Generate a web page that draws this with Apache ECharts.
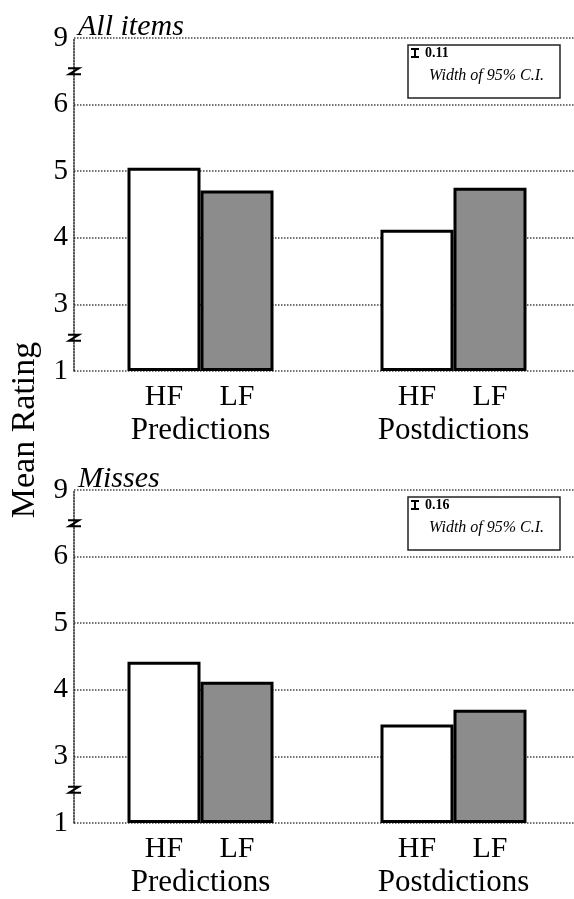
<!DOCTYPE html>
<html><head><meta charset="utf-8">
<script src="https://cdn.jsdelivr.net/npm/echarts@6/dist/echarts.min.js"></script>
<style>html,body{margin:0;padding:0;background:#fff}#c{width:574px;height:899px}</style>
</head><body><div id="c"></div>
<script>
// ---- data ----
const groups = ['Predictions', 'Postdictions'];
const seriesNames = ['HF', 'LF'];
const allHF = [5.05, 4.12];
const allLF = [4.71, 4.75];
const missHF = [4.42, 3.48];
const missLF = [4.12, 3.70];
const tickValues = [1, 3, 4, 5, 6, 9];
const panelTitles = ['All items', 'Misses'];
const ciWidths = ['0.11', '0.16'];
const yAxisTitle = 'Mean Rating';

// broken axis: each segment between listed ticks gets equal space
function toAxis(v) {
  for (let i = 0; i < tickValues.length - 1; i++) {
    const a = tickValues[i], b = tickValues[i + 1];
    if (v <= b) return i + (v - a) / (b - a);
  }
  return tickValues.length - 1;
}

const SERIF = '"Liberation Serif","Times New Roman",serif';
const gridTops = [38, 490];
const gridH = 333;
const gridLeft = 74;
const gridRight = -6;
const panels = [[allHF, allLF], [missHF, missLF]];

const chart = echarts.init(document.getElementById('c'), null, {renderer: 'canvas'});

const grids = [], xAxes = [], yAxes = [], series = [];
panels.forEach((p, i) => {
  grids.push({left: gridLeft, top: gridTops[i], right: gridRight, height: gridH,
    outerBoundsMode: 'none', containLabel: false});
  xAxes.push({
    type: 'category', gridIndex: i, data: groups,
    axisLine: {show: false}, axisTick: {show: false},
    axisLabel: {
      margin: 10,
      formatter: v => '{a|' + seriesNames[0] + '}{b|' + seriesNames[1] + '}\n{c|' + v + '}',
      rich: {
        a: {width: 73, align: 'center', fontSize: 30, fontFamily: SERIF, color: '#000', lineHeight: 33},
        b: {width: 73, align: 'center', fontSize: 30, fontFamily: SERIF, color: '#000', lineHeight: 33},
        c: {fontSize: 31, fontFamily: SERIF, color: '#000', lineHeight: 33}
      }
    }
  });
  yAxes.push({
    type: 'value', gridIndex: i, min: 0, max: tickValues.length - 1, interval: 1,
    axisLine: {show: true, lineStyle: {type: 'dotted', color: '#222', width: 1.5}},
    axisTick: {show: false},
    splitLine: {show: true, lineStyle: {type: 'dotted', color: '#444', width: 1.5}},
    axisLabel: {
      margin: 6, fontSize: 29, fontFamily: SERIF, color: '#000',
      formatter: v => String(tickValues[Math.round(v)])
    }
  });
  seriesNames.forEach((n, k) => {
    series.push({
      type: 'bar', name: n, xAxisIndex: i, yAxisIndex: i,
      data: p[k].map(toAxis),
      barWidth: 73, barGap: '0%',
      itemStyle: {color: k === 0 ? '#ffffff' : '#8c8c8c', borderColor: '#000', borderWidth: 3},
      emphasis: {disabled: true},
      z: 3
    });
  });
});

chart.setOption({
  animation: false,
  grid: grids, xAxis: xAxes, yAxis: yAxes, series: series
});

// graphics: titles, legend boxes, axis-break marks, y title
const graphics = [];
graphics.push({
  type: 'text', x: 25, y: 430, rotation: Math.PI / 2,
  style: {text: yAxisTitle, font: '34px ' + SERIF, fill: '#000', align: 'center', verticalAlign: 'middle'}
});
panels.forEach((p, i) => {
  const top = gridTops[i];
  graphics.push({
    type: 'text', x: 78, y: top + 4,
    style: {text: panelTitles[i], font: 'italic 30px ' + SERIF, fill: '#000', align: 'left', verticalAlign: 'bottom'}
  });
  // legend box
  const bx = 408, by = top + 7;
  graphics.push({type: 'rect', shape: {x: bx, y: by, width: 152, height: 53},
    style: {fill: '#fff', stroke: '#222', lineWidth: 1.5}, z: 10});
  // small error bar glyph
  const gx = bx + 7, gy1 = by + 4, gy2 = by + 12;
  graphics.push({type: 'polyline', shape: {points: [[gx - 4, gy1], [gx + 4, gy1]]}, style: {stroke: '#000', lineWidth: 2}, z: 11});
  graphics.push({type: 'polyline', shape: {points: [[gx, gy1], [gx, gy2]]}, style: {stroke: '#000', lineWidth: 2}, z: 11});
  graphics.push({type: 'polyline', shape: {points: [[gx - 4, gy2], [gx + 4, gy2]]}, style: {stroke: '#000', lineWidth: 2}, z: 11});
  graphics.push({type: 'text', x: bx + 17, y: by + 8, z: 11,
    style: {text: ciWidths[i], font: 'bold 14px ' + SERIF, fill: '#000', verticalAlign: 'middle'}});
  graphics.push({type: 'text', x: bx + 21, y: by + 31, z: 11,
    style: {text: 'Width of 95% C.I.', font: 'italic 16px ' + SERIF, fill: '#000', verticalAlign: 'middle'}});
  // axis break marks
  [7.5, 2].forEach(v => {
    const y = chart.convertToPixel({yAxisIndex: i}, toAxis(v));
    graphics.push({type: 'polyline', x: gridLeft, y: y,
      shape: {points: [[-6, -3], [5, -3], [-5, 3], [7, 3]]},
      style: {stroke: '#000', lineWidth: 2, fill: null}, z: 12});
  });
});
chart.setOption({graphic: graphics});
</script>
</body></html>
